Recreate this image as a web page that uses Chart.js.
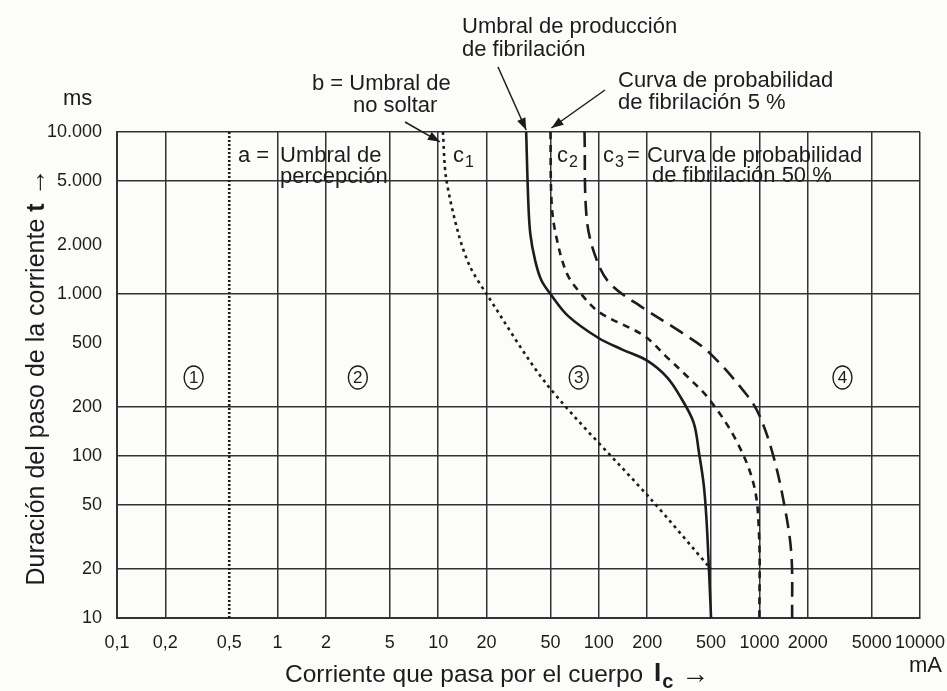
<!DOCTYPE html>
<html>
<head>
<meta charset="utf-8">
<script src="https://cdn.jsdelivr.net/npm/chart.js@4"></script>
<style>
  html, body { margin: 0; padding: 0; background: #fcfcfa; }
  canvas { display: block; }
</style>
</head>
<body>
<canvas id="myChart" width="947" height="691"></canvas>
<script>
// axes
const xTicks = [0.1, 0.2, 0.5, 1, 2, 5, 10, 20, 50, 100, 200, 500, 1000, 2000, 5000, 10000];
const xTickLabels = ['0,1', '0,2', '0,5', '1', '2', '5', '10', '20', '50', '100', '200', '500', '1000', '2000', '5000', '10000'];
const yTicks = [10, 20, 50, 100, 200, 500, 1000, 2000, 5000, 10000];
const yTickLabels = ['10', '20', '50', '100', '200', '500', '1.000', '2.000', '5.000', '10.000'];

// curves: current in mA, duration in ms
const aCurrent = [0.5, 0.5];
const aTime = [10, 10000];
const bCurrent = [10.7, 11.2, 13.4, 15.8, 20, 48, 208, 500];
const bTime = [10000, 5200, 2330, 1474, 1000, 273, 55, 20];
const c1Current = [35.3, 36.4, 37.5, 40.2, 43.9, 50, 64.3, 99, 140, 200, 267, 329, 390, 421, 450, 468, 485, 500];
const c1Time = [10000, 3682, 2330, 1602, 1215, 1000, 733, 537, 454, 388, 305, 224, 160, 104, 66.5, 41, 20, 10];
const c2Current = [50, 50.8, 54, 63.3, 77.7, 102, 191, 267, 361, 487, 713, 923, 995, 1000];
const c2Time = [10000, 3682, 2330, 1338, 1000, 765, 553, 405, 305, 224, 126, 66.5, 32.7, 10];
const c3Current = [81.5, 84, 95.5, 117, 189, 329, 487, 838, 1000, 1208, 1414, 1579, 1600];
const c3Time = [10000, 2951, 1694, 1165, 820, 577, 435, 237, 178, 104, 52.8, 25.3, 10];

// zone markers
const zoneLabels = ['1', '2', '3', '4'];
const zoneCurrent = [0.3, 3.16, 75, 3290];
const zoneTime = [305, 305, 305, 305];

const ink = '#1c1c1c';
const textFont = '"Liberation Sans", Arial, sans-serif';

function curve(label, xs, ys, dash, tension) {
  return {
    label,
    data: xs.map((x, i) => ({ x, y: ys[i] })),
    showLine: true,
    borderColor: ink,
    borderWidth: 2.6,
    borderDash: dash,
    borderCapStyle: 'butt',
    pointRadius: 0,
    tension: tension,
    fill: false
  };
}

function arrow(ctx, x0, y0, x1, y1) {
  ctx.beginPath();
  ctx.moveTo(x0, y0);
  ctx.lineTo(x1, y1);
  ctx.lineWidth = 1.5;
  ctx.stroke();
  const a = Math.atan2(y1 - y0, x1 - x0), L = 12, W = 4.5;
  ctx.beginPath();
  ctx.moveTo(x1, y1);
  ctx.lineTo(x1 - L * Math.cos(a) + W * Math.sin(a), y1 - L * Math.sin(a) - W * Math.cos(a));
  ctx.lineTo(x1 - L * Math.cos(a) - W * Math.sin(a), y1 - L * Math.sin(a) + W * Math.cos(a));
  ctx.closePath();
  ctx.fill();
}

const paper = {
  id: 'paper',
  beforeDraw(chart) {
    const ctx = chart.ctx;
    ctx.save();
    ctx.fillStyle = '#fcfcfa';
    ctx.fillRect(0, 0, chart.width, chart.height);
    ctx.restore();
  }
};

const notes = {
  id: 'notes',
  afterDatasetsDraw(chart) {
    const { ctx, scales: { x, y } } = chart;
    ctx.save();
    ctx.fillStyle = ink;
    ctx.strokeStyle = ink;
    ctx.textBaseline = 'middle';
    ctx.textAlign = 'left';
    const big = '22px ' + textFont;
    const sub = '16px ' + textFont;
    ctx.font = big;

    // c labels with subscripts
    const cLabel = (n, px, py) => {
      ctx.font = big;
      ctx.fillText('c', px, py);
      ctx.font = sub;
      ctx.fillText(n, px + ctx.measureText('c').width + 4, py + 7);
      ctx.font = big;
    };

    ctx.fillText('a =', 238, 156);
    ctx.fillText('Umbral de', 280, 156);
    ctx.fillText('percepción', 280, 177);
    cLabel('1', 453, 156);
    cLabel('2', 557, 156);
    cLabel('3', 603, 156);
    ctx.fillText('=', 627, 156);
    ctx.fillText('Curva de probabilidad', 647, 156);
    ctx.fillText('de fibrilación 50 %', 652, 176);

    ctx.fillText('b = Umbral de', 312, 84);
    ctx.fillText('no soltar', 353, 106);
    ctx.fillText('Umbral de producción', 462, 27);
    ctx.fillText('de fibrilación', 462, 50);
    ctx.fillText('Curva de probabilidad', 618, 81);
    ctx.fillText('de fibrilación 5 %', 618, 103);

    // arrows to the curves
    arrow(ctx, 405, 122, x.getPixelForValue(bCurrent[0]) - 3, y.getPixelForValue(8700));
    arrow(ctx, 498, 67, x.getPixelForValue(c1Current[0]), y.getPixelForValue(c1Time[0]) - 2);
    arrow(ctx, 605, 90, x.getPixelForValue(c2Current[0]) + 1, y.getPixelForValue(c2Time[0]) - 4);

    // zone numbers in circles
    zoneLabels.forEach((s, i) => {
      const cx = x.getPixelForValue(zoneCurrent[i]);
      const cy = y.getPixelForValue(zoneTime[i]);
      ctx.beginPath();
      ctx.ellipse(cx, cy, 9.5, 11.5, 0, 0, Math.PI * 2);
      ctx.fillStyle = '#fcfcfa';
      ctx.fill();
      ctx.lineWidth = 1.4;
      ctx.stroke();
      ctx.fillStyle = ink;
      ctx.textAlign = 'center';
      ctx.font = '17px ' + textFont;
      ctx.fillText(s, cx, cy + 1);
    });

    // units and axis titles
    ctx.textAlign = 'left';
    ctx.font = big;
    ctx.fillText('ms', 63, 99);
    ctx.fillText('mA', 909, 666);

    const xt = '24.5px ' + textFont;
    let px = 285;
    const py = 675;
    const t1 = 'Corriente que pasa por el cuerpo ';
    ctx.font = xt;
    ctx.fillText(t1, px, py);
    px += ctx.measureText(t1).width + 4;
    ctx.font = 'bold 26px ' + textFont;
    ctx.fillText('I', px, py - 1);
    px += ctx.measureText('I').width + 1;
    ctx.font = 'bold 20px ' + textFont;
    ctx.fillText('c', px, py + 7);
    px += ctx.measureText('c').width + 8;
    ctx.font = '28px ' + textFont;
    ctx.fillText('→', px, py);

    const yt = '25px ' + textFont;
    ctx.translate(37, 377);
    ctx.rotate(-Math.PI / 2);
    const t2 = 'Duración del paso de la corriente ';
    ctx.font = yt;
    const w2 = ctx.measureText(t2).width;
    ctx.font = 'bold 25px ' + textFont;
    const wt = ctx.measureText('t ').width;
    ctx.font = '28px ' + textFont;
    const wa = ctx.measureText('→').width;
    let qx = -(w2 + wt + wa) / 2;
    ctx.font = yt;
    ctx.fillText(t2, qx, 0);
    qx += w2;
    ctx.font = 'bold 25px ' + textFont;
    ctx.fillText('t', qx, 0);
    qx += wt;
    ctx.font = '28px ' + textFont;
    ctx.fillText('→', qx, 0);
    ctx.restore();
  }
};

const ctx = document.getElementById('myChart');
new Chart(ctx, {
  type: 'scatter',
  data: {
    datasets: [
      curve('a', aCurrent, aTime, [2, 2], 0),
      curve('b', bCurrent, bTime, [3, 4], 0.3),
      curve('c1', c1Current, c1Time, [], 0.35),
      curve('c2', c2Current, c2Time, [7, 6], 0.35),
      curve('c3', c3Current, c3Time, [15, 8], 0.35)
    ]
  },
  options: {
    responsive: false,
    animation: false,
    layout: { padding: { top: 132, right: 27, left: 0, bottom: 0 } },
    plugins: {
      legend: { display: false },
      tooltip: { enabled: false }
    },
    scales: {
      x: {
        type: 'logarithmic',
        min: 0.1,
        max: 10000,
        afterBuildTicks: s => { s.ticks = xTicks.map(v => ({ value: v })); },
        afterFit: s => { s.height = 73; s.paddingRight = 0; s.paddingLeft = 0; },
        ticks: {
          autoSkip: false,
          maxRotation: 0,
          padding: 14,
          color: ink,
          font: { family: textFont, size: 18 },
          callback: v => xTickLabels[xTicks.indexOf(v)]
        },
        grid: {
          drawTicks: false,
          lineWidth: 1.5,
          color: c => (c.tick && c.tick.value === 0.5) ? 'rgba(0,0,0,0)' : '#333'
        },
        border: { color: '#333', width: 2 }
      },
      y: {
        type: 'logarithmic',
        min: 10,
        max: 10000,
        afterBuildTicks: s => { s.ticks = yTicks.map(v => ({ value: v })); },
        afterFit: s => { s.width = 117; },
        ticks: {
          autoSkip: false,
          padding: 15,
          color: ink,
          font: { family: textFont, size: 18 },
          callback: v => yTickLabels[yTicks.indexOf(v)]
        },
        grid: {
          drawTicks: false,
          lineWidth: 1.5,
          color: c => (c.tick && (c.tick.value === 500 || c.tick.value === 2000)) ? 'rgba(0,0,0,0)' : '#333'
        },
        border: { color: '#333', width: 2 }
      }
    }
  },
  plugins: [paper, notes]
});
</script>
</body>
</html>
